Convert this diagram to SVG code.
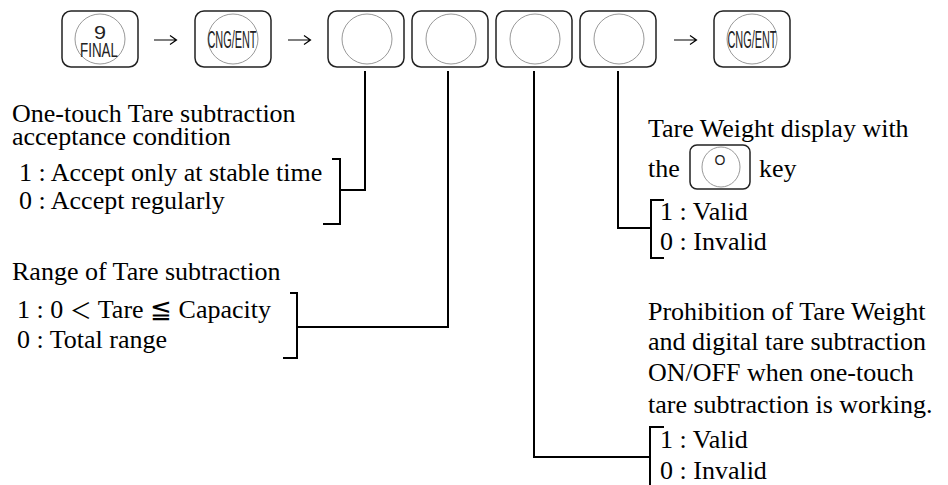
<svg xmlns="http://www.w3.org/2000/svg" width="948" height="485" viewBox="0 0 948 485">
<style>
.bg{fill:#fff}
.kr{fill:#fff;stroke:#222;stroke-width:1.5}
.ring{fill:none;stroke:#999;stroke-width:1}
.t{font-family:"Liberation Serif","Times New Roman",serif;font-size:26px;fill:#000}
.k{font-family:"Liberation Sans",Arial,sans-serif;fill:#222}
.c{fill:none;stroke:#000;stroke-width:2}
.ar{fill:none;stroke:#000;stroke-width:1.2}
</style>
<rect class="bg" x="0" y="0" width="948" height="485"/>
<g id="key-final">
<rect class="kr" x="62" y="11" width="76" height="56" rx="9"/>
<circle class="ring" cx="100" cy="39" r="25"/>
<text class="k" x="100" y="38.5" style="font-size:19px" text-anchor="middle" textLength="12" lengthAdjust="spacingAndGlyphs">9</text>
<text class="k" x="99" y="56.5" style="font-size:20px" text-anchor="middle" textLength="38" lengthAdjust="spacingAndGlyphs">FINAL</text>
</g>
<g id="key-cngent-1">
<rect class="kr" x="195" y="11" width="76" height="56" rx="9"/>
<circle class="ring" cx="233" cy="39" r="25"/>
<text class="k" x="232" y="48" style="font-size:23px" text-anchor="middle" textLength="49" lengthAdjust="spacingAndGlyphs">CNG/ENT</text>
</g>
<g id="key-d1">
<rect class="kr" x="328" y="11" width="76" height="56" rx="9"/>
<circle class="ring" cx="367" cy="39" r="25"/>
</g>
<g id="key-d2">
<rect class="kr" x="412" y="11" width="76" height="56" rx="9"/>
<circle class="ring" cx="451" cy="39" r="25"/>
</g>
<g id="key-d3">
<rect class="kr" x="496" y="11" width="76" height="56" rx="9"/>
<circle class="ring" cx="535" cy="39" r="25"/>
</g>
<g id="key-d4">
<rect class="kr" x="580" y="11" width="76" height="56" rx="9"/>
<circle class="ring" cx="619" cy="39" r="25"/>
</g>
<g id="key-cngent-2">
<rect class="kr" x="714" y="11" width="76" height="56" rx="9"/>
<circle class="ring" cx="752" cy="39" r="25"/>
<text class="k" x="752" y="48" style="font-size:23px" text-anchor="middle" textLength="49" lengthAdjust="spacingAndGlyphs">CNG/ENT</text>
</g>
<g id="arrows">
<path class="ar" d="M154,40 H176 M170,35.5 L176.5,40 L170,44.5"/>
<path class="ar" d="M288,40 H310 M304,35.5 L310.5,40 L304,44.5"/>
<path class="ar" d="M674,40 H696 M690,35.5 L696.5,40 L690,44.5"/>
</g>
<g id="connectors">
<path class="c" d="M365,71 V190 H340"/>
<path class="c" d="M332,159 H340 V224 H323"/>
<path class="c" d="M448,71 V327 H297"/>
<path class="c" d="M290,293 H297 V358 H283"/>
<path class="c" d="M534,71 V457 H650"/>
<path class="c" d="M664,427 H650 V486"/>
<path class="c" d="M618,71 V228 H651"/>
<path class="c" d="M664,200 H651 V258 H664"/>
</g>
<g id="note-acceptance">
<text class="t" x="12" y="122">One-touch Tare subtraction</text>
<text class="t" x="12" y="145">acceptance condition</text>
<text class="t" x="19" y="181">1 : Accept only at stable time</text>
<text class="t" x="19" y="209">0 : Accept regularly</text>
</g>
<g id="note-range">
<text class="t" x="12" y="280">Range of Tare subtraction</text>
<text class="t" x="17" y="318">1 : 0 <tspan font-family="'Noto Sans CJK JP',sans-serif" font-size="22">＜</tspan> Tare ≦ Capacity</text>
<text class="t" x="17" y="348">0 : Total range</text>
</g>
<g id="note-tare-display">
<text class="t" x="648" y="137">Tare Weight display with</text>
<text class="t" x="648" y="177">the</text>
<g id="key-zero">
<rect class="kr" x="690" y="145" width="60" height="44" rx="7"/>
<ellipse class="ring" cx="721" cy="167" rx="19" ry="20"/>
<text class="k" x="720" y="165" style="font-size:14px" text-anchor="middle">O</text>
</g>
<text class="t" x="759" y="177">key</text>
<text class="t" x="660" y="220">1 : Valid</text>
<text class="t" x="660" y="250">0 : Invalid</text>
</g>
<g id="note-prohibition">
<text class="t" x="648" y="320">Prohibition of Tare Weight</text>
<text class="t" x="648" y="350">and digital tare subtraction</text>
<text class="t" x="648" y="381">ON/OFF when one-touch</text>
<text class="t" x="648" y="413">tare subtraction is working.</text>
<text class="t" x="660" y="448">1 : Valid</text>
<text class="t" x="660" y="479">0 : Invalid</text>
</g>
</svg>
